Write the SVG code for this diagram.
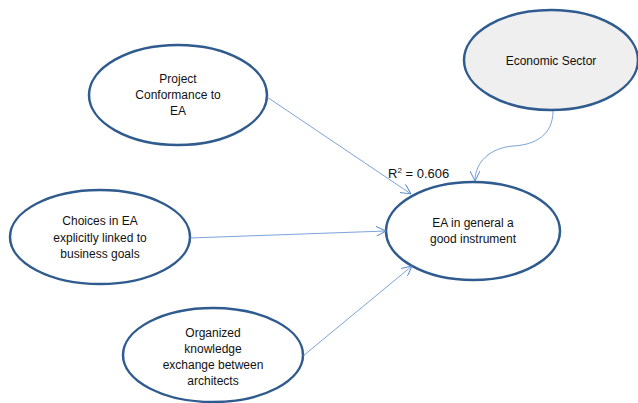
<svg xmlns="http://www.w3.org/2000/svg" width="638" height="403" viewBox="0 0 638 403">
<style>
.n{fill:#fff;stroke:#2f5b8e;stroke-width:2.5}
.g{fill:#efefef}
.t{font-family:"Liberation Sans",Arial,sans-serif;font-size:12px;fill:#111;text-anchor:middle}
.c{fill:none;stroke:#5b8ccf;stroke-width:0.8}
</style>
<defs>
<marker id="a" viewBox="0 0 10 10" refX="10" refY="5" markerWidth="10" markerHeight="10" markerUnits="userSpaceOnUse" orient="auto">
<path d="M0,0 L10,5 L0,10" fill="none" stroke="#5b8ccf" stroke-width="1"/>
</marker>
</defs>
<rect width="638" height="403" fill="#fff"/>
<g id="economic">
<ellipse class="n g" cx="551" cy="60" rx="87" ry="50"/>
<text class="t" x="551" y="65">Economic Sector</text>
</g>
<g id="ea">
<ellipse class="n" cx="473" cy="231" rx="87" ry="49"/>
<text class="t" x="473" y="227">EA in general a</text>
<text class="t" x="473" y="243">good instrument</text>
</g>
<g id="project">
<ellipse class="n" cx="178" cy="95" rx="89" ry="50"/>
<text class="t" x="178" y="83">Project</text>
<text class="t" x="178" y="99">Conformance to</text>
<text class="t" x="178" y="115">EA</text>
</g>
<g id="choices">
<ellipse class="n" cx="100" cy="237" rx="90" ry="47"/>
<text class="t" x="100" y="225">Choices in EA</text>
<text class="t" x="100" y="242">explicitly linked to</text>
<text class="t" x="100" y="258">business goals</text>
</g>
<g id="organized">
<ellipse class="n" cx="213" cy="355" rx="90" ry="47"/>
<text class="t" x="213" y="337">Organized</text>
<text class="t" x="213" y="353">knowledge</text>
<text class="t" x="213" y="369">exchange between</text>
<text class="t" x="213" y="385">architects</text>
</g>
<g id="connectors">
<line class="c" x1="267" y1="97" x2="411" y2="194" marker-end="url(#a)"/>
<line class="c" x1="190" y1="238" x2="386" y2="231" marker-end="url(#a)"/>
<line class="c" x1="303" y1="356" x2="412" y2="266" marker-end="url(#a)"/>
<path class="c" d="M553,111 C553,135 535,145 513,146 C490,148 475,162 475,181" marker-end="url(#a)"/>
<text x="388" y="178" font-family="Liberation Sans,Arial,sans-serif" font-size="13" fill="#111">R<tspan font-size="8" dy="-5">2</tspan><tspan dy="5"> = 0.606</tspan></text>
</g>
</svg>
